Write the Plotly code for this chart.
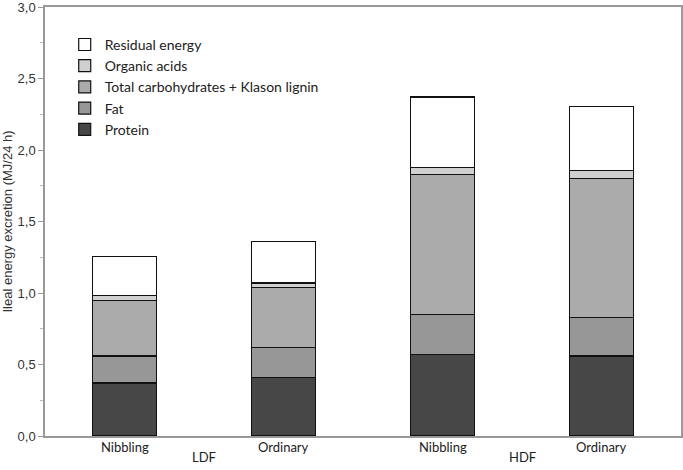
import plotly.graph_objects as go

# ileal energy excretion, MJ/24 h, stacked components
diets = ["LDF", "LDF", "HDF", "HDF"]
patterns = ["Nibbling", "Ordinary", "Nibbling", "Ordinary"]

protein = [0.37, 0.41, 0.57, 0.56]
fat = [0.19, 0.21, 0.28, 0.27]
carbs = [0.39, 0.42, 0.98, 0.97]
organic_acids = [0.035, 0.03, 0.05, 0.055]
residual = [0.27, 0.29, 0.49, 0.45]

y_ticks = [0, 0.5, 1.0, 1.5, 2.0, 2.5, 3.0]

series = [
    ("Protein", protein, "#474747"),
    ("Fat", fat, "#979797"),
    ("Total carbohydrates + Klason lignin", carbs, "#ababab"),
    ("Organic acids", organic_acids, "#d0d0d0"),
    ("Residual energy", residual, "#ffffff"),
]

xpos = list(range(len(patterns)))

fig = go.Figure()
for name, vals, col in series:
    fig.add_trace(go.Bar(x=xpos, y=vals, name=name, width=0.4,
                         marker=dict(color=col, line=dict(color="#111111", width=1.2))))

# category labels and group labels under the axis
lab_font = dict(family="Lato", size=13, color="#222")
for i, p in enumerate(patterns):
    fig.add_annotation(x=xpos[i], y=0, yref="paper", yshift=-11, text=p,
                       showarrow=False, yanchor="middle", font=lab_font)
for g in ["LDF", "HDF"]:
    idx = [i for i, d in enumerate(diets) if d == g]
    fig.add_annotation(x=sum(idx) / len(idx), y=0, yref="paper", yshift=-21,
                       text=g, showarrow=False, yanchor="middle", font=lab_font)

fig.update_layout(
    width=683, height=470,
    barmode="stack",
    separators=", ",
    plot_bgcolor="white", paper_bgcolor="white",
    margin=dict(l=45, r=2, t=7, b=34, autoexpand=False),
    legend=dict(traceorder="reversed", x=0.031, y=0.949, xanchor="left", yanchor="top",
                font=dict(family="Lato", size=14, color="#222"),
                itemwidth=30, bgcolor="rgba(0,0,0,0)"),
    showlegend=True,
)
fig.update_xaxes(range=[-0.5, 3.5], tickvals=xpos, showticklabels=False,
                 showline=True, linecolor="#999", linewidth=1.5, mirror=True,
                 ticks="", showgrid=False, zeroline=False, automargin=False)
fig.update_yaxes(range=[0, 3], tickvals=y_ticks, tickformat=".1f",
                 tickfont=dict(family="Liberation Sans", size=13, color="#333"),
                 title=dict(text="Ileal energy excretion (MJ/24 h)", standoff=5,
                            font=dict(family="Liberation Sans", size=13, color="#333")),
                 showline=True, linecolor="#999", linewidth=1.5, mirror=True,
                 ticks="outside", ticklen=5, tickcolor="#999",
                 minor=dict(dtick=0.25, ticks="outside", ticklen=3, tickcolor="#bbb"),
                 ticklabeloverflow="allow",
                 showgrid=False, zeroline=False, automargin=False)

# drop the default page margin so the figure sits at the window's corner
fig.write_html("out.html", config={"displayModeBar": False},
               post_script="document.body.style.margin='0px';")
